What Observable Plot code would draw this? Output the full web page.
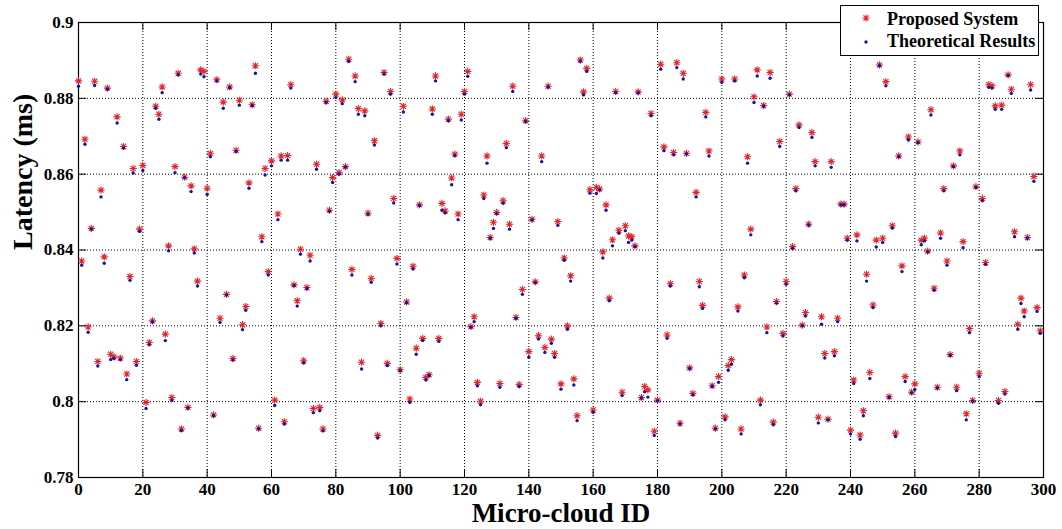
<!DOCTYPE html>
<html>
<head>
<meta charset="utf-8">
<script src="https://cdn.jsdelivr.net/npm/d3@7"></script>
<script src="https://cdn.jsdelivr.net/npm/@observablehq/plot@0.6"></script>
<style>
  html, body { margin: 0; padding: 0; background: #fff; }
  #chart { position: relative; width: 1062px; height: 529px; }
</style>
</head>
<body>
<div id="chart"></div>
<script>
// Micro-cloud IDs 0..299
const microCloudIds = d3.range(0, 300);

// Latency (ms) of the proposed system (red asterisks)
const proposedSystem = [
0.8846,0.8371,0.8692,0.8197,0.8457,0.8845,0.8106,0.8558,0.8382,0.8827,
0.8125,0.8118,0.8751,0.8115,0.8673,0.8073,0.8330,0.8615,0.8106,0.8455,
0.8623,0.7998,0.8156,0.8213,0.8779,0.8758,0.8830,0.8178,0.8411,0.8011,
0.8620,0.8866,0.7928,0.8592,0.7985,0.8569,0.8403,0.8318,0.8875,0.8871,
0.8563,0.8655,0.7965,0.8849,0.8220,0.8790,0.8283,0.8830,0.8114,0.8663,
0.8795,0.8203,0.8251,0.8577,0.8783,0.8886,0.7930,0.8435,0.8615,0.8343,
0.8635,0.8004,0.8495,0.8648,0.7947,0.8649,0.8836,0.8308,0.8266,0.8402,
0.8108,0.8301,0.8386,0.7982,0.8626,0.7985,0.7928,0.8792,0.8505,0.8591,
0.8811,0.8604,0.8796,0.8620,0.8903,0.8349,0.8859,0.8773,0.8104,0.8767,
0.8497,0.8325,0.8688,0.7911,0.8206,0.8868,0.8101,0.8818,0.8536,0.8378,
0.8084,0.8779,0.8263,0.8007,0.8357,0.8141,0.8519,0.8167,0.8064,0.8071,
0.8772,0.8859,0.8167,0.8523,0.8503,0.8745,0.8590,0.8653,0.8495,0.8758,
0.8818,0.8871,0.8198,0.8224,0.8051,0.8001,0.8545,0.8648,0.8433,0.8473,
0.8499,0.8048,0.8530,0.8681,0.8468,0.8832,0.8222,0.8045,0.8296,0.8741,
0.8132,0.8481,0.8316,0.8174,0.8648,0.8143,0.8832,0.8165,0.8127,0.8475,
0.8047,0.8379,0.8200,0.8332,0.8060,0.7963,0.8901,0.8817,0.8879,0.8559,
0.7978,0.8565,0.8561,0.8395,0.8519,0.8273,0.8427,0.8818,0.8452,0.8025,
0.8464,0.8437,0.8435,0.8411,0.8817,0.8011,0.8040,0.8031,0.8760,0.7922,
0.8004,0.8890,0.8672,0.8176,0.8311,0.8657,0.8894,0.7943,0.8866,0.8655,
0.8089,0.8022,0.8552,0.8317,0.8254,0.8763,0.8661,0.8042,0.7930,0.8066,
0.8851,0.7960,0.8095,0.8111,0.8851,0.8250,0.7928,0.8334,0.8646,0.8455,
0.8804,0.8875,0.8004,0.8781,0.8197,0.8868,0.7946,0.8264,0.8686,0.8180,
0.8317,0.8811,0.8409,0.8562,0.8730,0.8202,0.8235,0.8468,0.8710,0.8633,
0.7959,0.8224,0.8127,0.7954,0.8633,0.8132,0.8220,0.8521,0.8521,0.8431,
0.7925,0.8057,0.8440,0.7912,0.7976,0.8336,0.8077,0.8255,0.8426,0.8888,
0.8431,0.8844,0.8013,0.8464,0.7917,0.8648,0.8358,0.8066,0.8698,0.8025,
0.8047,0.8685,0.8426,0.8431,0.8397,0.8770,0.8299,0.8038,0.8445,0.8562,
0.8371,0.8124,0.8622,0.8038,0.8661,0.8422,0.7968,0.8193,0.8003,0.8567,
0.8075,0.8536,0.8367,0.8836,0.8833,0.8780,0.8003,0.8782,0.8027,0.8862,
0.8824,0.8448,0.8204,0.8273,0.8239,0.8433,0.8836,0.8594,0.8248,0.8187
];

// Latency (ms) of the theoretical results (blue dots)
const theoreticalResults = [
0.8832,0.8360,0.8679,0.8183,0.8455,0.8834,0.8094,0.8540,0.8365,0.8824,
0.8111,0.8114,0.8735,0.8111,0.8669,0.8058,0.8320,0.8603,0.8096,0.8449,
0.8610,0.7982,0.8150,0.8210,0.8774,0.8745,0.8815,0.8161,0.8398,0.8003,
0.8604,0.8862,0.7924,0.8591,0.7983,0.8554,0.8392,0.8305,0.8864,0.8857,
0.8547,0.8646,0.7963,0.8846,0.8209,0.8774,0.8281,0.8828,0.8110,0.8660,
0.8782,0.8190,0.8241,0.8563,0.8781,0.8866,0.7928,0.8422,0.8598,0.8334,
0.8622,0.7990,0.8480,0.8637,0.7941,0.8637,0.8827,0.8306,0.8252,0.8389,
0.8102,0.8298,0.8371,0.7971,0.8613,0.7976,0.7923,0.8789,0.8502,0.8578,
0.8802,0.8600,0.8786,0.8618,0.8897,0.8334,0.8844,0.8758,0.8086,0.8754,
0.8494,0.8315,0.8677,0.7904,0.8200,0.8864,0.8095,0.8811,0.8524,0.8363,
0.8082,0.8764,0.8261,0.7998,0.8350,0.8125,0.8517,0.8161,0.8057,0.8069,
0.8758,0.8846,0.8159,0.8505,0.8498,0.8741,0.8572,0.8649,0.8480,0.8743,
0.8811,0.8858,0.8196,0.8211,0.8042,0.7992,0.8536,0.8629,0.8431,0.8457,
0.8496,0.8038,0.8523,0.8670,0.8455,0.8818,0.8220,0.8040,0.8283,0.8739,
0.8117,0.8479,0.8314,0.8165,0.8633,0.8130,0.8830,0.8154,0.8117,0.8465,
0.8033,0.8373,0.8191,0.8318,0.8044,0.7950,0.8898,0.8809,0.8871,0.8550,
0.7972,0.8549,0.8558,0.8379,0.8505,0.8266,0.8411,0.8815,0.8444,0.8016,
0.8451,0.8420,0.8426,0.8409,0.8814,0.8009,0.8026,0.8012,0.8754,0.7911,
0.8002,0.8877,0.8662,0.8167,0.8305,0.8651,0.8881,0.7941,0.8851,0.8653,
0.8087,0.8018,0.8540,0.8303,0.8246,0.8751,0.8648,0.8040,0.7928,0.8051,
0.8842,0.7952,0.8083,0.8099,0.8846,0.8239,0.7915,0.8327,0.8629,0.8440,
0.8789,0.8859,0.7992,0.8779,0.8182,0.8853,0.7939,0.8260,0.8673,0.8173,
0.8310,0.8809,0.8404,0.8556,0.8723,0.8200,0.8226,0.8466,0.8697,0.8622,
0.7944,0.8204,0.8115,0.7952,0.8618,0.8121,0.8211,0.8519,0.8519,0.8426,
0.7915,0.8048,0.8424,0.7901,0.7963,0.8318,0.8061,0.8248,0.8408,0.8886,
0.8420,0.8833,0.8011,0.8458,0.7908,0.8646,0.8343,0.8053,0.8690,0.8023,
0.8032,0.8683,0.8414,0.8424,0.8395,0.8756,0.8294,0.8036,0.8431,0.8556,
0.8360,0.8122,0.8620,0.8029,0.8651,0.8406,0.7952,0.8182,0.8001,0.8565,
0.8066,0.8530,0.8362,0.8829,0.8827,0.8771,0.7996,0.8771,0.8020,0.8860,
0.8813,0.8435,0.8191,0.8259,0.8224,0.8431,0.8822,0.8581,0.8238,0.8180
];

const xTicks = [0, 20, 40, 60, 80, 100, 120, 140, 160, 180, 200, 220, 240, 260, 280, 300];
const yTicks = [0.78, 0.8, 0.82, 0.84, 0.86, 0.88, 0.9];
const seriesNames = ["Proposed System", "Theoretical Results"];

const RED = "#e3262b";
const BLUE = "#1414a8";

const data = microCloudIds.map((id, i) => ({id, p: proposedSystem[i], t: theoreticalResults[i]}));

// MATLAB-like 8-spoke asterisk
const asterisk8 = {
  draw(ctx, size) {
    const r = Math.sqrt(size / Math.PI);
    const d = r * Math.SQRT1_2;
    ctx.moveTo(-r, 0); ctx.lineTo(r, 0);
    ctx.moveTo(0, -r); ctx.lineTo(0, r);
    ctx.moveTo(-d, -d); ctx.lineTo(d, d);
    ctx.moveTo(-d, d); ctx.lineTo(d, -d);
  }
};

const W = 1062, H = 529, mL = 78, mR = 19, mT = 22, mB = 52;
const plotW = W - mL - mR, plotH = H - mT - mB;
const TL = 8;
const FONT = "'Liberation Serif', 'Times New Roman', serif";

const chart = Plot.plot({
  width: W, height: H,
  marginLeft: mL, marginRight: mR, marginTop: mT, marginBottom: mB,
  style: {fontFamily: FONT, fontWeight: "bold", fontSize: "17px", background: "#fff", color: "#000"},
  x: {domain: [0, 300], label: null},
  y: {domain: [0.78, 0.9], label: null},
  marks: [
    Plot.gridX(xTicks, {stroke: "#000", strokeOpacity: 1, strokeWidth: 1, strokeDasharray: "1,2"}),
    Plot.gridY(yTicks, {stroke: "#000", strokeOpacity: 1, strokeWidth: 1, strokeDasharray: "1,2"}),
    Plot.axisX({ticks: xTicks, tickSize: 0, tickPadding: 5, tickFormat: d => String(d), fontSize: 17, fontWeight: "bold", label: null}),
    Plot.axisY({ticks: yTicks, tickSize: 0, tickPadding: 5, tickFormat: d => String(+d.toFixed(2)), fontSize: 17, fontWeight: "bold", label: null}),
    // inward tick marks (bottom, top, left, right)
    Plot.tickX(xTicks, {x: d => d, insetTop: plotH - TL, stroke: "#000"}),
    Plot.tickX(xTicks, {x: d => d, insetBottom: plotH - TL, stroke: "#000"}),
    Plot.tickY(yTicks, {y: d => d, insetRight: plotW - TL, stroke: "#000"}),
    Plot.tickY(yTicks, {y: d => d, insetLeft: plotW - TL, stroke: "#000"}),
    Plot.frame({stroke: "#000", strokeWidth: 1.2}),
    Plot.dot(data, {x: "id", y: "p", r: 3.6, symbol: asterisk8, stroke: RED, strokeWidth: 1.1, fill: "none"}),
    Plot.dot(data, {x: "id", y: "t", r: 1.7, fill: BLUE, stroke: "none"}),
    Plot.text(["Latency (ms)"], {text: d => d, frameAnchor: "left", dx: -55, rotate: -90, fontSize: 28, fontWeight: "bold", fill: "#000"}),
    Plot.text(["Micro-cloud ID"], {text: d => d, frameAnchor: "bottom", dy: 44, fontSize: 27, fontWeight: "bold", fill: "#000"})
  ]
});

document.getElementById("chart").appendChild(chart);

// Legend box (top-right, overlapping the frame like the original)
const svg = d3.select(chart);
const lg = svg.append("g").attr("font-family", FONT).attr("font-weight", "bold").attr("font-size", 18).attr("text-anchor", "start");
lg.append("rect").attr("x", 840.5).attr("y", 5.5).attr("width", 198).attr("height", 50)
  .attr("fill", "#fff").attr("stroke", "#000").attr("stroke-width", 1);
const ar = 3.6, ad = ar * Math.SQRT1_2;
const star = `M${-ar},0L${ar},0M0,${-ar}L0,${ar}M${-ad},${-ad}L${ad},${ad}M${-ad},${ad}L${ad},${-ad}`;
lg.append("path").attr("d", star).attr("transform", "translate(866,18)").attr("stroke", RED).attr("stroke-width", 1.1).attr("fill", "none");
lg.append("circle").attr("cx", 866).attr("cy", 42).attr("r", 1.7).attr("fill", BLUE);
lg.append("text").attr("x", 887).attr("y", 25).attr("text-anchor", "start").attr("fill", "#000").text(seriesNames[0]);
lg.append("text").attr("x", 887).attr("y", 47).attr("text-anchor", "start").attr("fill", "#000").text(seriesNames[1]);
</script>
</body>
</html>
